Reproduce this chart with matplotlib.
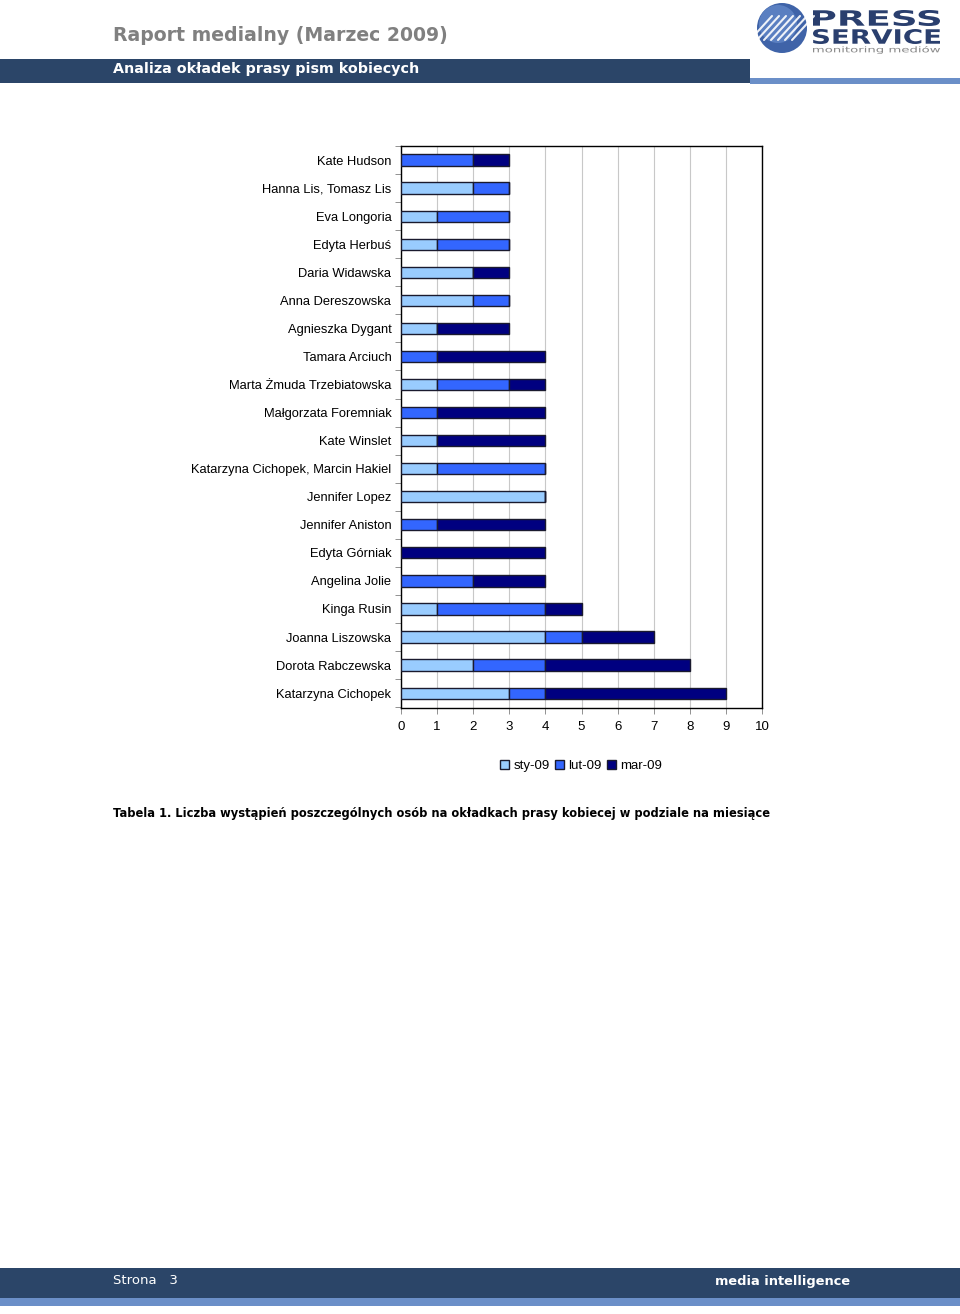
import matplotlib
matplotlib.use("Agg")
import matplotlib.pyplot as plt
import numpy as np
from matplotlib.patches import Rectangle, Circle, PathPatch
from matplotlib.textpath import TextPath
from matplotlib.font_manager import FontProperties
from matplotlib.transforms import Affine2D

plt.rcParams['font.family'] = ['Liberation Sans', 'DejaVu Sans']

people = ["Kate Hudson", "Hanna Lis, Tomasz Lis", "Eva Longoria", "Edyta Herbuś",
          "Daria Widawska", "Anna Dereszowska", "Agnieszka Dygant", "Tamara Arciuch",
          "Marta Żmuda Trzebiatowska", "Małgorzata Foremniak", "Kate Winslet",
          "Katarzyna Cichopek, Marcin Hakiel", "Jennifer Lopez", "Jennifer Aniston",
          "Edyta Górniak", "Angelina Jolie", "Kinga Rusin", "Joanna Liszowska",
          "Dorota Rabczewska", "Katarzyna Cichopek"]
sty = [0, 2, 1, 1, 2, 2, 1, 0, 1, 0, 1, 1, 4, 0, 0, 0, 1, 4, 2, 3]
lut = [2, 1, 2, 2, 0, 1, 0, 1, 2, 1, 0, 3, 0, 1, 0, 2, 3, 1, 2, 1]
mar = [1, 0, 0, 0, 1, 0, 2, 3, 1, 3, 3, 0, 0, 3, 4, 2, 1, 2, 4, 5]
series_names = ["sty-09", "lut-09", "mar-09"]
colors = ["#99CCFF", "#3366FF", "#000080"]
xticks = list(range(0, 11))

W, H = 960, 1314
fig = plt.figure(figsize=(W / 100, H / 100), dpi=100)

def fx(x):
    return x / W

def fy(y):
    return 1 - y / H

# ---- header ----
fig.text(fx(113), fy(35.5), "Raport medialny (Marzec 2009)", color="#808080",
         fontsize=13.6, fontweight="bold", family="DejaVu Sans", va="center", ha="left")
fig.patches.append(Rectangle((0, fy(83)), fx(750), (83 - 59) / H, transform=fig.transFigure,
                             facecolor="#2B4568", edgecolor="none"))
fig.patches.append(Rectangle((fx(750), fy(84)), fx(210), 6 / H, transform=fig.transFigure,
                             facecolor="#6B8FC8", edgecolor="none"))
fig.text(fx(113), fy(69), "Analiza okładek prasy pism kobiecych", color="white",
         fontsize=10.3, fontweight="bold", family="DejaVu Sans", va="center", ha="left")

# logo (axes in pixel units, y measured upward from image bottom)
LX0, LX1, LY0, LY1 = 752, 958, 0, 60
lax = fig.add_axes([fx(LX0), fy(LY1), fx(LX1 - LX0), (LY1 - LY0) / H])
lax.set_xlim(LX0, LX1)
lax.set_ylim(H - LY1, H - LY0)
lax.axis("off")

def fit_text(s, x0, x1, ytop, ybot, color, weight="bold"):
    tp = TextPath((0, 0), s, size=10, prop=FontProperties(family="DejaVu Sans", weight=weight))
    bb = tp.get_extents()
    tr = (Affine2D().translate(-bb.x0, -bb.y0)
          .scale((x1 - x0) / bb.width, (ybot - ytop) / bb.height)
          .translate(x0, H - ybot))
    lax.add_patch(PathPatch(tr.transform_path(tp), facecolor=color, edgecolor="none"))

lax.add_patch(Circle((782, H - 28), 25, facecolor="#3F63A8", edgecolor="none"))
lax.add_patch(Circle((778, H - 24), 19, facecolor="#7197D6", edgecolor="none", alpha=0.55))
for k in range(-3, 4):
    xc = 782 + k * 7
    lax.plot([xc - 11, xc + 11], [H - 40, H - 16], color="white", lw=1.5, alpha=0.9,
             solid_capstyle="round")
fit_text("PRESS", 813, 940, 10, 26, "#2A3F6E", weight="heavy")
fit_text("SERVICE", 813, 940, 29, 44, "#2A3F6E", weight="heavy")
fit_text("monitoring mediów", 813, 940, 46, 54, "#8A8A8A", weight="normal")

# ---- chart ----
ax = fig.add_axes([fx(401), fy(708), fx(762 - 401), (708 - 146) / H])
y = np.arange(len(people))
left = np.zeros(len(people))
for vals, name, c in zip([sty, lut, mar], series_names, colors):
    v = np.array(vals, dtype=float)
    ax.barh(y, v, left=left, height=0.4, color=c, edgecolor="#1a1a2e",
            linewidth=1.0, label=name, zorder=3)
    left += v

ax.set_xlim(0, 10)
ax.set_ylim(len(people) - 0.47, -0.47)
ax.set_xticks(xticks)
ax.set_xticklabels([str(t) for t in xticks], fontsize=9.5)
ax.tick_params(axis="x", length=4, pad=5, width=0.6, color="#808080")
ax.set_yticks(y)
ax.set_yticklabels(people, fontsize=9.3)
ax.tick_params(axis="y", which="major", length=0, pad=7)
ax.set_yticks(np.arange(len(people) + 1) - 0.5, minor=True)
ax.tick_params(axis="y", which="minor", length=4, width=0.6, color="#808080")
ax.grid(axis="x", color="#C8C8C8", linewidth=0.8, zorder=0)
for s in ax.spines.values():
    s.set_color("black")
    s.set_linewidth(1.0)

leg = fig.legend(loc="center", bbox_to_anchor=(fx(581), fy(766)), ncol=3, frameon=False,
                 fontsize=9.5, handlelength=0.7, handleheight=0.7, handletextpad=0.3,
                 columnspacing=0.4)

# caption
fig.text(fx(113), fy(813),
         "Tabela 1. Liczba wystąpień poszczególnych osób na okładkach prasy kobiecej w podziale na miesiące",
         fontsize=8.3, fontweight="bold", family="DejaVu Sans", va="center", ha="left")

# ---- footer ----
fig.patches.append(Rectangle((0, fy(1298)), 1, 30 / H, transform=fig.transFigure,
                             facecolor="#2B4568", edgecolor="none"))
fig.patches.append(Rectangle((0, fy(1306)), 1, 8 / H, transform=fig.transFigure,
                             facecolor="#6B8FC8", edgecolor="none"))
fig.text(fx(113), fy(1281), "Strona   3", color="white", fontsize=9.5,
         family="DejaVu Sans", va="center", ha="left")
fig.text(fx(850), fy(1282), "media intelligence", color="white", fontsize=9.4,
         fontweight="bold", family="DejaVu Sans", va="center", ha="right")

fig.savefig("out.png", dpi=100, facecolor="white")
